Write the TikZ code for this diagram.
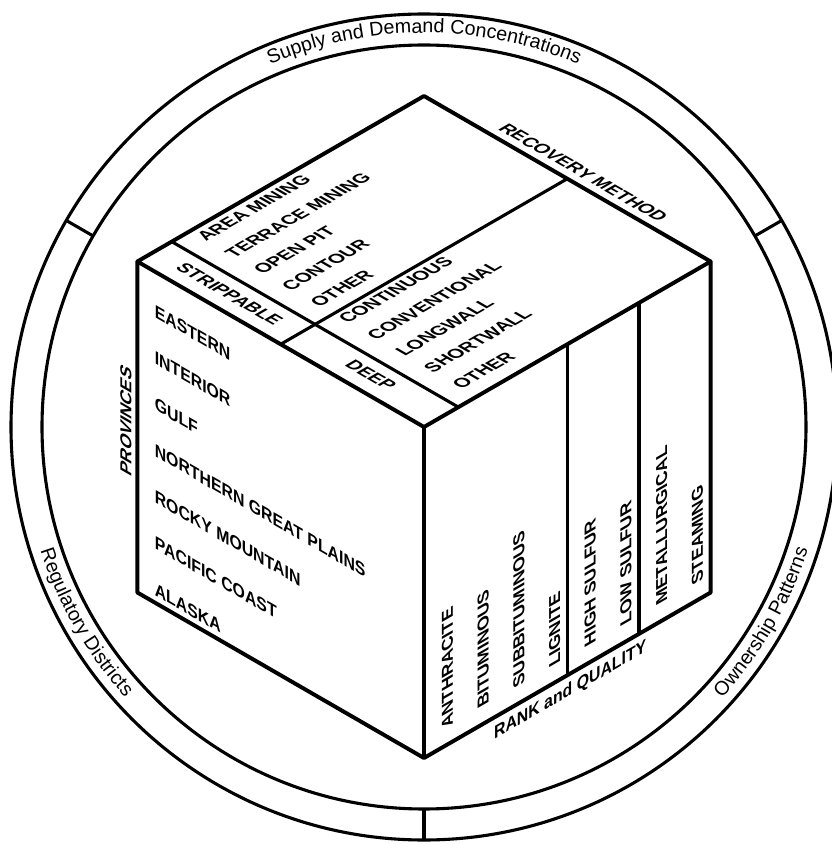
\documentclass[tikz,border=0pt]{standalone}
\usepackage{fontspec}
\setsansfont{Liberation Sans}
\usetikzlibrary{
  calc,%
  % text round the ring
  decorations.text%
}
\newcommand{\cubesize}{8.275cm}
\newcommand{\ringfont}{\sffamily\fontsize{14}{16}\selectfont}
\tikzset{
  cube edge/.style={line width=2.8pt, line join=round},
  face line/.style={line width=2.2pt},
  ring line/.style={line width=2.2pt},
  lbl/.style={font=\sffamily\bfseries\fontsize{13}{15}\selectfont, inner sep=0pt},
  % isometric lettering, one style for each face
  top lbl/.style={lbl, cm={0.866,0.5,-0.866,0.5,(0,0)}},
  strip lbl/.style={lbl, cm={0.866,-0.5,0.866,0.5,(0,0)}},
  left lbl/.style={lbl, cm={0.866,-0.5,0,1,(0,0)}},
  side lbl/.style={lbl, cm={0,1,-0.866,0.5,(0,0)}},
  right lbl/.style={lbl, cm={0,1,-0.866,-0.5,(0,0)}},
  rank lbl/.style={lbl, cm={0.866,0.5,0,1,(0,0)}}
}

\begin{document}
\begin{tikzpicture}
  \useasboundingbox (-10.6,-10.425) rectangle (10.175,10.675);
  % the ring
  \draw[ring line] (0,0) circle (9.55) (0,0) circle (10.325);
  \foreach \a in {30,150,270}
    \draw[ring line] (\a:9.55) -- (\a:10.325);
  \path[decorate, decoration={text along path, text align=center,
      text={|\ringfont|Supply and Demand Concentrations}}]
    (150:9.85) arc[start angle=150, end angle=30, radius=9.85];
  \path[decorate, decoration={text along path, text align=center,
      text={|\ringfont|Regulatory Districts}}]
    (155:10.075) arc[start angle=155, end angle=265, radius=10.075];
  \path[decorate, decoration={text along path, text align=center,
      text={|\ringfont|Ownership Patterns}}]
    (275:10.075) arc[start angle=275, end angle=385, radius=10.075];

  % the cube
  \coordinate (F) at (0,0);
  \coordinate (L) at (150:\cubesize);
  \coordinate (R) at (30:\cubesize);
  \coordinate (T) at ($(L)+(R)$);
  \coordinate (B) at (0,-\cubesize);
  \coordinate (BL) at ($(L)+(B)$);
  \coordinate (BR) at ($(R)+(B)$);
  \draw[cube edge] (F) -- (L) -- (T) -- (R) -- cycle;
  \draw[cube edge] (L) -- (BL) -- (B) -- (BR) -- (R);
  \draw[cube edge] (F) -- (B);

  % top face
  \begin{scope}[x={(150:\cubesize)}, y={(30:\cubesize)}]
    \draw[face line] (0.5,0) -- (0.5,1);
    \draw[face line] (0,0.12) -- (1,0.12);
    \node[strip lbl] (strippable) at (0.74,0.062) {STRIPPABLE};
    \node[strip lbl] (deep) at (0.25,0.065) {DEEP};
    \node[strip lbl] (recovery) at (0.49,1.046) {RECOVERY METHOD};
    \foreach \m [count=\k from 0] in {AREA MINING, TERRACE MINING, OPEN PIT,
        CONTOUR, OTHER, CONTINUOUS, CONVENTIONAL, LONGWALL, SHORTWALL, OTHER}
      \node[top lbl, anchor=west] (method\k) at ({0.958-0.099*\k},0.178) {\m};
  \end{scope}

  % left face
  \begin{scope}[x={(150:\cubesize)}, y={(0,-\cubesize)}]
    \foreach \p [count=\k from 0] in {EASTERN, INTERIOR, GULF,
        NORTHERN GREAT PLAINS, ROCKY MOUNTAIN, PACIFIC COAST, ALASKA}
      \node[left lbl, anchor=west] (prov\k) at (0.94,{0.119+0.14*\k}) {\p};
    \node[side lbl] (provinces) at (1.04,0.5) {PROVINCES};
  \end{scope}

  % right face
  \begin{scope}[x={(30:\cubesize)}, y={(0,-\cubesize)}]
    \draw[face line] (0.5,0) -- (0.5,1);
    \draw[face line] (0.75,0) -- (0.75,1);
    \foreach \r [count=\k from 0] in {ANTHRACITE, BITUMINOUS, SUBBITUMINOUS,
        LIGNITE, HIGH SULFUR, LOW SULFUR, METALLURGICAL, STEAMING}
      \node[right lbl, anchor=west] (rank\k) at ({0.082+0.1245*\k},0.95) {\r};
    \node[rank lbl] (rankquality) at (0.51,1.052) {RANK and QUALITY};
  \end{scope}
\end{tikzpicture}
\end{document}
